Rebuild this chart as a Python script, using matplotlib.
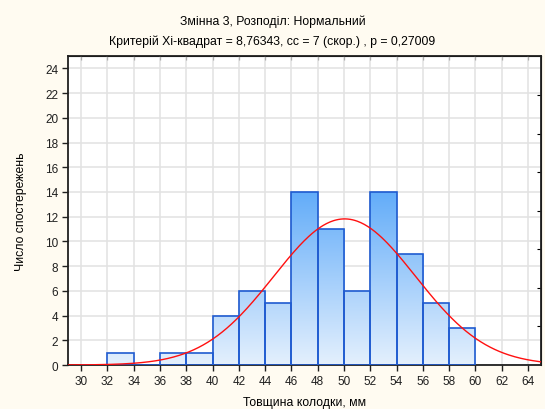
import numpy as np
import matplotlib
matplotlib.use('Agg')
import matplotlib.pyplot as plt
from matplotlib.colors import LinearSegmentedColormap

# Дані гістограми (ліві межі інтервалів і кількість спостережень)
bin_left = [30, 32, 34, 36, 38, 40, 42, 44, 46, 48, 50, 52, 54, 56, 58]
counts = [0, 1, 0, 1, 1, 4, 6, 5, 14, 11, 6, 14, 9, 5, 3]
bin_width = 2

# параметри нормального розподілу
mean = 50.05
sd = 5.40
n_obs = 80

title1 = 'Змінна 3, Розподіл: Нормальний'
title2 = 'Критерій Хі-квадрат = 8,76343, сс = 7 (скор.) , p = 0,27009'
xlabel = 'Товщина колодки, мм'
ylabel = 'Число спостережень'

plt.rcParams['font.family'] = ['Liberation Sans', 'DejaVu Sans']

fig = plt.figure(figsize=(5.45, 4.1), dpi=100)
fig.patch.set_facecolor('#fffbf1')
ax = fig.add_axes([0.1248, 0.1073, 0.868, 0.7537])
ax.set_facecolor('white')

ax.set_xlim(29, 65)
ax.set_ylim(0, 25)
ax.set_xticks(np.arange(30, 65, 2))
ax.set_yticks(np.arange(0, 25, 2))
ax.grid(True, color='#e2e2e2', linewidth=1.1)
ax.set_axisbelow(True)

# стовпчики з градієнтом
cmap = LinearSegmentedColormap.from_list('bl', ['#e4f0fd', '#62acf9'])
grad = np.linspace(0, 1, 256).reshape(-1, 1)
bars = ax.bar(bin_left, counts, width=bin_width, align='edge',
              facecolor='none', edgecolor='#1f5bd0', linewidth=1.2, zorder=3)
for b in bars:
    if b.get_height() > 0:
        im = ax.imshow(grad, cmap=cmap, origin='lower', aspect='auto',
                       extent=(29, 65, 0, 14), zorder=2)
        im.set_clip_path(b)

# нормальна крива
xs = np.linspace(29, 65, 400)
ys = n_obs * bin_width / (sd * np.sqrt(2 * np.pi)) * np.exp(-0.5 * ((xs - mean) / sd) ** 2)
ax.plot(xs, ys, color='#ff1010', linewidth=1.0, zorder=4)

ax.set_xlim(29, 65)
ax.set_ylim(0, 25)

for s in ax.spines.values():
    s.set_linewidth(1.3)
    s.set_color('#202020')

ax.tick_params(axis='both', direction='out', length=4, width=1, labelsize=8.5, colors='#202020', pad=3)

# верхні та праві мітки всередину
top = ax.secondary_xaxis('top')
top.set_xticks(np.arange(30, 65, 2))
top.tick_params(direction='in', length=3, labeltop=False)
right = ax.secondary_yaxis('right')
right.set_yticks([3.117 * k for k in range(1, 8)])
right.tick_params(direction='in', length=3, labelright=False)

ax.set_xlabel(xlabel, fontsize=8.8, labelpad=7)
ax.set_ylabel(ylabel, fontsize=8.8, labelpad=13)

fig.text(0.5, 1 - 22 / 410, title1, ha='center', va='center', fontsize=8.8)
fig.text(0.5, 1 - 42 / 410, title2, ha='center', va='center', fontsize=8.8)

fig.savefig('out.png', dpi=100, facecolor=fig.get_facecolor())
